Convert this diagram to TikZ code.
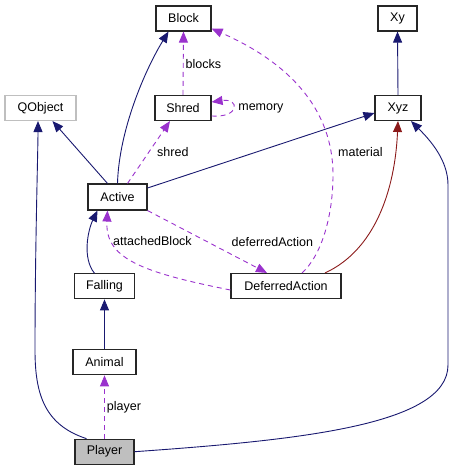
\documentclass[tikz,border=0pt]{standalone}
\usepackage{fontspec}
\setmainfont{Liberation Sans}
\usepackage{xcolor}
\usetikzlibrary{positioning,arrows.meta}

\definecolor{inhblue}{HTML}{191970}
\definecolor{usepurple}{HTML}{9A32CD}
\definecolor{tplred}{HTML}{8B1A1A}
\definecolor{extgray}{HTML}{BFBFBF}

\begin{document}
\begin{tikzpicture}[
  x=1pt, y=-1pt,
  cls/.style={rectangle, draw=black!85, line width=1.1pt, fill=white, inner sep=0pt,
    minimum height=25pt, font=\fontsize{12.5}{14}\selectfont},
  extcls/.style={cls, draw=extgray},
  selfcls/.style={cls, fill=extgray},
  inherit/.style={-{Triangle[length=11pt,width=9pt]}, line width=0.9pt, draw=inhblue},
  usage/.style={-{Triangle[length=11pt,width=9pt]}, line width=0.9pt, draw=usepurple,
    dash pattern=on 5pt off 4pt},
  tpl/.style={-{Triangle[length=11pt,width=9pt]}, line width=0.9pt, draw=tplred},
  lbl/.style={font=\fontsize{12.5}{14}\selectfont, inner sep=2pt},
]
\useasboundingbox (0,0) rectangle (454,471);

% classes
\node[cls, minimum width=55pt] (block) at (183.5,18.5) {Block};
\node[cls, minimum width=39pt] (xy) at (397.5,18.5) {Xy};
\node[extcls, minimum width=71pt] (qobject) at (40.5,108) {QObject};
\node[cls, minimum width=56pt] (shred) at (183,108) {Shred};
\node[cls, minimum width=46pt] (xyz) at (398,108) {Xyz};
\node[cls, minimum width=59pt, minimum height=26pt] (active) at (117.5,197) {Active};
\node[cls, minimum width=60pt] (falling) at (104.5,286.3) {Falling};
\node[cls, minimum width=110pt] (deferred) at (286,286) {DeferredAction};
\node[cls, minimum width=63pt] (animal) at (104.5,362.3) {Animal};
\node[selfcls, minimum width=59pt] (player) at (104.5,451.7) {Player};

% inheritance
\draw[inherit] (active.north) .. controls (119,130) and (145,70) .. ([xshift=-15pt]block.south);
\draw[inherit] ([xshift=-10pt]active.north) -- ([xshift=12pt]qobject.south);
\draw[inherit] ([yshift=9pt]active.east) -- ([yshift=-5pt]xyz.west);
\draw[inherit] (xyz.north) -- (xy.south);
\draw[inherit] ([xshift=-10pt]falling.north) .. controls (82,258) and (88,230) .. ([xshift=-20pt]active.south);
\draw[inherit] (animal.north) -- (falling.south);
\draw[inherit] ([xshift=-18pt]player.north) .. controls (45,425) and (35,395) .. (35,350)
  .. controls (35,250) and (38,150) .. ([xshift=-2.5pt]qobject.south);
\draw[inherit] (player.east) .. controls (300,440) and (448,425) .. (448,365) -- (448,185)
  .. controls (448,160) and (430,140) .. ([xshift=13pt]xyz.south);
\draw[tpl] ([xshift=39pt]deferred.north) .. controls (375,250) and (395,190) .. (xyz.south);

% usage
\draw[usage] (shred.north) -- node[lbl, right, pos=0.48] {blocks} (block.south);
\draw[usage] ([yshift=-8pt]shred.east) .. controls (240,118) and (240,98) .. node[lbl, right, xshift=3pt] {memory} ([yshift=6pt]shred.east);
\draw[usage] ([xshift=10pt]active.north) -- node[lbl, right, xshift=6pt] {shred} ([xshift=-13pt]shred.south);
\draw[usage] ([xshift=16pt]deferred.north) .. controls (322,255) and (333,215) .. (333,175)
  .. controls (333,90) and (260,50) .. ([yshift=-10pt]block.east);
\node[lbl, anchor=west] (materiallbl) at (336,152) {material};
\draw[usage] (active.south east) -- node[lbl, right, xshift=22pt] {deferredAction} ([xshift=-19pt]deferred.north);
\draw[usage] ([yshift=-4pt]deferred.west) .. controls (140,272) and (105,258) .. ([xshift=-10pt]active.south);
\node[lbl, anchor=west] (attachedlbl) at (111,241) {attachedBlock};
\draw[usage] (player.north) -- node[lbl, right, pos=0.5] {player} (animal.south);

\end{tikzpicture}
\end{document}
